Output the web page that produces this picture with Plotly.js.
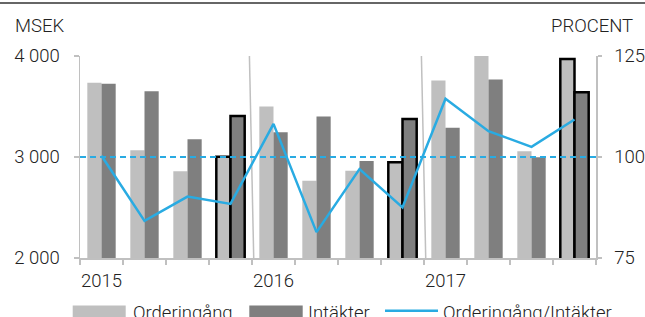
<!DOCTYPE html>
<html>
<head>
<meta charset="utf-8">
<script src="https://cdn.plot.ly/plotly-3.0.1.min.js"></script>
<style>
html,body{margin:0;padding:0;background:#fff;}
#chart{width:645px;height:317px;}
</style>
</head>
<body>
<div id="chart"></div>
<script>
// ---- data ----
const quarters = [0,1,2,3,4,5,6,7,8,9,10,11];
const quarterLabels = ["Q1 2015","Q2 2015","Q3 2015","Q4 2015","Q1 2016","Q2 2016","Q3 2016","Q4 2016","Q1 2017","Q2 2017","Q3 2017","Q4 2017"];
const orderingang = [3735, 3068, 2860, 3003, 3500, 2765, 2865, 2947, 3758, 4000, 3056, 3970];
const intakter    = [3725, 3652, 3175, 3405, 3244, 3402, 2960, 3376, 3290, 3768, 2997, 3640];
const ratio       = [100.3, 84.2, 90.2, 88.4, 108.2, 81.4, 97.0, 87.5, 114.4, 106.4, 102.5, 109.3];
const highlighted = [false,false,false,true,false,false,false,true,false,false,false,true];
const yearLabels = ["2015","2016","2017"];
const yearStart = [-0.5, 3.5, 7.5];
const leftTicks = [2000, 3000, 4000];
const leftTickText = ["2 000", "3 000", "4 000"];
const rightTicks = [75, 100, 125];
const baseline = 100;
const seriesNames = ["Orderingång", "Intäkter", "Orderingång/Intäkter"];

// ---- styling ----
const LIGHT = "#bfbfbf", DARK = "#7f7f7f", BLUE = "#29abe2", AXIS = "#c0c0c0", TXT = "#222222";
const FONT = "Roboto, 'Liberation Sans', sans-serif";
const FS = 18.5;
const FW = 300;
const W = 645, H = 317, ML = 80, MR = 49, MT = 56, MB = 59;
const PW = W - ML - MR, PH = H - MT - MB;
const px = x => (x - ML) / PW;
const py = y => (H - MB - y) / PH;

const boundaries = [];
for (let i = 0; i <= quarters.length; i++) boundaries.push(i - 0.5);

const traces = [
  {
    type: "bar", x: quarters, y: orderingang, name: seriesNames[0], hovertext: quarterLabels,
    marker: { color: LIGHT, line: { color: highlighted.map(h => h ? "#000" : LIGHT), width: highlighted.map(h => h ? 2.5 : 0) } },
    showlegend: false
  },
  {
    type: "bar", x: quarters, y: intakter, name: seriesNames[1], hovertext: quarterLabels,
    marker: { color: DARK, line: { color: highlighted.map(h => h ? "#000" : DARK), width: highlighted.map(h => h ? 2.5 : 0) } },
    showlegend: false
  },
  {
    type: "scatter", mode: "lines", x: quarters, y: ratio, yaxis: "y2", name: seriesNames[2],
    line: { color: BLUE, width: 2.5 }, showlegend: false
  }
];

const shapes = [
  { type: "line", xref: "paper", yref: "paper", x0: px(0), x1: px(W), y0: py(3), y1: py(3), line: { color: "#333", width: 1.5 } },
  { type: "line", xref: "paper", yref: "y2", x0: 0, x1: 1, y0: baseline, y1: baseline, line: { color: BLUE, width: 2, dash: "6px,4px" }, layer: "above" },
  ...yearStart.slice(1).map(b => ({ type: "line", xref: "x", yref: "paper", x0: b - 0.06, x1: b + 0.04, y0: 1, y1: 0, line: { color: AXIS, width: 1.5 }, layer: "below" })),
  { type: "rect", xref: "paper", yref: "paper", x0: px(72.7), x1: px(125.7), y0: py(305.5), y1: py(318), fillcolor: LIGHT, line: { width: 0 } },
  { type: "rect", xref: "paper", yref: "paper", x0: px(249.3), x1: px(302.7), y0: py(305.5), y1: py(318), fillcolor: DARK, line: { width: 0 } },
  { type: "line", xref: "paper", yref: "paper", x0: px(385), x1: px(438), y0: py(310.7), y1: py(310.7), line: { color: BLUE, width: 2.5 } }
];

const annFont = { family: FONT, size: FS, color: TXT, weight: FW };
const annotations = [
  ...yearLabels.map((t, i) => ({ text: t, xref: "x", yref: "paper", x: yearStart[i], y: 0, xanchor: "left", yanchor: "top", yshift: -10, xshift: -1, showarrow: false, font: annFont })),
  { text: "MSEK", xref: "paper", yref: "paper", x: px(13), y: py(13), xanchor: "left", yanchor: "top", showarrow: false, font: annFont },
  { text: "PROCENT", xref: "paper", yref: "paper", x: px(635), y: py(13), xanchor: "right", yanchor: "top", showarrow: false, font: annFont },
  { text: seriesNames[0], xref: "paper", yref: "paper", x: px(130.5), y: py(299.5), xanchor: "left", yanchor: "top", showarrow: false, font: annFont },
  { text: seriesNames[1], xref: "paper", yref: "paper", x: px(306), y: py(299.5), xanchor: "left", yanchor: "top", showarrow: false, font: annFont },
  { text: seriesNames[2], xref: "paper", yref: "paper", x: px(440.5), y: py(299.5), xanchor: "left", yanchor: "top", showarrow: false, font: annFont }
];

const layout = {
  width: W, height: H,
  margin: { l: ML, r: MR, t: MT, b: MB, pad: 0 },
  paper_bgcolor: "#fff", plot_bgcolor: "#fff",
  font: { family: FONT, size: FS, color: TXT, weight: FW },
  barmode: "group", bargap: 0.34, bargroupgap: 0,
  showlegend: false,
  xaxis: {
    range: [-0.5, 11.5], tickvals: boundaries, ticktext: boundaries.map(() => ""),
    ticks: "outside", ticklen: 5, tickwidth: 1.5, tickcolor: AXIS,
    showline: true, linecolor: AXIS, linewidth: 1.5, showgrid: false, zeroline: false, fixedrange: true
  },
  yaxis: {
    range: [2000, 4000], tickvals: leftTicks, ticktext: leftTickText,
    tickfont: { family: FONT, size: FS, color: TXT, weight: FW },
    ticks: "outside", ticklen: 5, tickwidth: 1.5, tickcolor: AXIS, ticklabelstandoff: 10,
    showline: true, linecolor: AXIS, linewidth: 1.5, showgrid: false, zeroline: false, fixedrange: true
  },
  yaxis2: {
    overlaying: "y", side: "right", range: [75, 125], tickvals: rightTicks,
    tickfont: { family: FONT, size: FS, color: TXT, weight: FW },
    ticks: "outside", ticklen: 4, tickwidth: 1.5, tickcolor: AXIS, ticklabelstandoff: 9,
    showline: true, linecolor: AXIS, linewidth: 1.5, showgrid: false, zeroline: false, fixedrange: true
  },
  shapes: shapes,
  annotations: annotations
};

Plotly.newPlot("chart", traces, layout, { staticPlot: true, displayModeBar: false });
</script>
</body>
</html>
